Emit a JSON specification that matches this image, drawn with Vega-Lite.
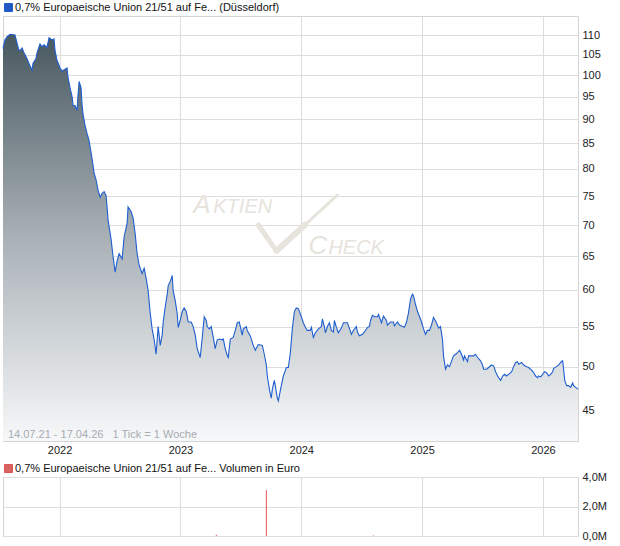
{
  "$schema": "https://vega.github.io/schema/vega-lite/v6.json",
  "padding": {"left": 0, "top": 1, "right": 5, "bottom": 4},
  "background": "white",
  "spacing": 36,
  "bounds": "flush",
  "config": {
    "font": "Liberation Sans",
    "view": {"stroke": "#d4d4d4"},
    "axis": {"gridColor": "#dddddd", "domain": false, "ticks": false, "labelFont": "Liberation Sans", "labelFontSize": 11, "labelColor": "#222222"}
  },
  "resolve": {"scale": {"color": "independent"}, "legend": {"color": "independent"}},
  "datasets": {
    "price": [
      {"t":2021.532,"v":106.5},{"t":2021.548,"v":108.7},{"t":2021.565,"v":109.5},{"t":2021.590,"v":110.2},{"t":2021.631,"v":110},{"t":2021.648,"v":108},{"t":2021.664,"v":106},{"t":2021.681,"v":106.3},{"t":2021.689,"v":106.7},{"t":2021.706,"v":105.5},{"t":2021.731,"v":104},{"t":2021.747,"v":102.8},{"t":2021.772,"v":101.2},{"t":2021.780,"v":102.8},{"t":2021.805,"v":104},{"t":2021.814,"v":105.5},{"t":2021.838,"v":107.7},{"t":2021.855,"v":107},{"t":2021.872,"v":107.5},{"t":2021.896,"v":106.8},{"t":2021.913,"v":109.3},{"t":2021.938,"v":108.7},{"t":2021.954,"v":109},{"t":2021.963,"v":106},{"t":2021.979,"v":103.6},{"t":2022.004,"v":101.7},{"t":2022.021,"v":101},{"t":2022.046,"v":101.4},{"t":2022.062,"v":101.7},{"t":2022.070,"v":99.5},{"t":2022.087,"v":97},{"t":2022.104,"v":95},{"t":2022.112,"v":93},{"t":2022.128,"v":93},{"t":2022.145,"v":92},{"t":2022.153,"v":95.5},{"t":2022.162,"v":98.5},{"t":2022.178,"v":97},{"t":2022.186,"v":93.3},{"t":2022.195,"v":91},{"t":2022.211,"v":88.7},{"t":2022.228,"v":87},{"t":2022.244,"v":85.6},{"t":2022.261,"v":83.2},{"t":2022.269,"v":82},{"t":2022.286,"v":79.2},{"t":2022.302,"v":78},{"t":2022.319,"v":76},{"t":2022.336,"v":74.8},{"t":2022.352,"v":75.5},{"t":2022.369,"v":75.8},{"t":2022.385,"v":75.1},{"t":2022.402,"v":70.8},{"t":2022.427,"v":67.6},{"t":2022.443,"v":64.9},{"t":2022.460,"v":62.6},{"t":2022.476,"v":64.3},{"t":2022.493,"v":65.4},{"t":2022.518,"v":64.6},{"t":2022.534,"v":68.1},{"t":2022.559,"v":70.3},{"t":2022.567,"v":73.1},{"t":2022.592,"v":72.3},{"t":2022.609,"v":71.2},{"t":2022.625,"v":68.7},{"t":2022.642,"v":65.4},{"t":2022.659,"v":63.6},{"t":2022.683,"v":62.4},{"t":2022.700,"v":63.2},{"t":2022.717,"v":61.6},{"t":2022.733,"v":59.9},{"t":2022.750,"v":56.8},{"t":2022.766,"v":54.7},{"t":2022.783,"v":53.3},{"t":2022.799,"v":51.5},{"t":2022.808,"v":53.3},{"t":2022.816,"v":55},{"t":2022.833,"v":52.6},{"t":2022.849,"v":53.9},{"t":2022.857,"v":55.5},{"t":2022.874,"v":57.6},{"t":2022.891,"v":59.4},{"t":2022.899,"v":60.6},{"t":2022.924,"v":61.6},{"t":2022.932,"v":62.1},{"t":2022.940,"v":59.9},{"t":2022.957,"v":58.5},{"t":2022.973,"v":56.8},{"t":2022.982,"v":54.9},{"t":2022.998,"v":55.8},{"t":2023.015,"v":57},{"t":2023.031,"v":57.5},{"t":2023.048,"v":57},{"t":2023.065,"v":55.6},{"t":2023.089,"v":55.6},{"t":2023.106,"v":55},{"t":2023.123,"v":53.9},{"t":2023.139,"v":52.2},{"t":2023.164,"v":51.1},{"t":2023.181,"v":53.6},{"t":2023.197,"v":56.3},{"t":2023.214,"v":55.8},{"t":2023.222,"v":55},{"t":2023.239,"v":54.7},{"t":2023.255,"v":55},{"t":2023.272,"v":53.6},{"t":2023.288,"v":52.2},{"t":2023.305,"v":53.3},{"t":2023.321,"v":53.4},{"t":2023.346,"v":53.3},{"t":2023.355,"v":53.4},{"t":2023.371,"v":52.2},{"t":2023.388,"v":51.3},{"t":2023.396,"v":51.1},{"t":2023.413,"v":53.4},{"t":2023.437,"v":53.6},{"t":2023.454,"v":54.5},{"t":2023.471,"v":55.5},{"t":2023.487,"v":55.6},{"t":2023.512,"v":53.9},{"t":2023.520,"v":54.7},{"t":2023.545,"v":55},{"t":2023.553,"v":54.5},{"t":2023.578,"v":53.8},{"t":2023.603,"v":52.6},{"t":2023.620,"v":52},{"t":2023.644,"v":52.7},{"t":2023.678,"v":52.6},{"t":2023.694,"v":51.5},{"t":2023.711,"v":50.2},{"t":2023.719,"v":48.9},{"t":2023.736,"v":47.4},{"t":2023.752,"v":46.4},{"t":2023.761,"v":47.4},{"t":2023.777,"v":48.4},{"t":2023.785,"v":47.8},{"t":2023.802,"v":46.4},{"t":2023.810,"v":46.1},{"t":2023.835,"v":47.8},{"t":2023.852,"v":48.9},{"t":2023.877,"v":49.9},{"t":2023.893,"v":49.9},{"t":2023.910,"v":51.7},{"t":2023.926,"v":54.7},{"t":2023.943,"v":57},{"t":2023.959,"v":57.5},{"t":2023.976,"v":57.4},{"t":2024.001,"v":56.3},{"t":2024.017,"v":55.5},{"t":2024.034,"v":54.9},{"t":2024.050,"v":54.5},{"t":2024.075,"v":54.5},{"t":2024.084,"v":54.9},{"t":2024.100,"v":53.6},{"t":2024.117,"v":54.2},{"t":2024.142,"v":54.7},{"t":2024.166,"v":55},{"t":2024.175,"v":56},{"t":2024.191,"v":55},{"t":2024.200,"v":54.2},{"t":2024.216,"v":55},{"t":2024.233,"v":55.5},{"t":2024.249,"v":54.5},{"t":2024.266,"v":54.3},{"t":2024.274,"v":55.8},{"t":2024.291,"v":54.9},{"t":2024.307,"v":54.2},{"t":2024.332,"v":54.8},{"t":2024.349,"v":55.5},{"t":2024.382,"v":55.5},{"t":2024.398,"v":54.8},{"t":2024.415,"v":54},{"t":2024.431,"v":54.5},{"t":2024.456,"v":55},{"t":2024.465,"v":54.3},{"t":2024.481,"v":53.8},{"t":2024.506,"v":54},{"t":2024.523,"v":54.3},{"t":2024.548,"v":54.9},{"t":2024.564,"v":55},{"t":2024.573,"v":55.8},{"t":2024.589,"v":56.5},{"t":2024.606,"v":56.3},{"t":2024.630,"v":56.3},{"t":2024.639,"v":56.6},{"t":2024.664,"v":55.5},{"t":2024.680,"v":56.4},{"t":2024.705,"v":55.8},{"t":2024.713,"v":55.2},{"t":2024.738,"v":55.6},{"t":2024.763,"v":55.6},{"t":2024.771,"v":55.1},{"t":2024.796,"v":55.6},{"t":2024.813,"v":55.2},{"t":2024.838,"v":55},{"t":2024.854,"v":54.9},{"t":2024.871,"v":55.6},{"t":2024.887,"v":56.8},{"t":2024.904,"v":58.7},{"t":2024.920,"v":59.4},{"t":2024.929,"v":59.2},{"t":2024.945,"v":58},{"t":2024.962,"v":57},{"t":2024.979,"v":56.3},{"t":2024.995,"v":55.6},{"t":2025.012,"v":54.7},{"t":2025.028,"v":54},{"t":2025.045,"v":54.5},{"t":2025.061,"v":54.5},{"t":2025.078,"v":55.2},{"t":2025.094,"v":56.2},{"t":2025.119,"v":55.5},{"t":2025.136,"v":54.8},{"t":2025.152,"v":55},{"t":2025.169,"v":53.3},{"t":2025.177,"v":51.3},{"t":2025.194,"v":49.7},{"t":2025.210,"v":50.2},{"t":2025.227,"v":50},{"t":2025.260,"v":51.3},{"t":2025.277,"v":51.5},{"t":2025.293,"v":51.7},{"t":2025.310,"v":52},{"t":2025.326,"v":51.5},{"t":2025.343,"v":50.8},{"t":2025.351,"v":51.3},{"t":2025.376,"v":50.6},{"t":2025.384,"v":51.3},{"t":2025.409,"v":51.3},{"t":2025.426,"v":51.3},{"t":2025.442,"v":51.5},{"t":2025.459,"v":51.1},{"t":2025.484,"v":50.7},{"t":2025.500,"v":50.2},{"t":2025.509,"v":49.7},{"t":2025.534,"v":49.7},{"t":2025.550,"v":49.9},{"t":2025.575,"v":50.2},{"t":2025.592,"v":50.1},{"t":2025.608,"v":49.4},{"t":2025.625,"v":48.9},{"t":2025.633,"v":48.7},{"t":2025.650,"v":48.4},{"t":2025.666,"v":48.9},{"t":2025.683,"v":49.1},{"t":2025.699,"v":48.9},{"t":2025.716,"v":49.1},{"t":2025.741,"v":49.4},{"t":2025.757,"v":50},{"t":2025.774,"v":50.5},{"t":2025.790,"v":50.6},{"t":2025.799,"v":50.3},{"t":2025.824,"v":50.5},{"t":2025.840,"v":50.2},{"t":2025.865,"v":50},{"t":2025.881,"v":49.9},{"t":2025.906,"v":49.6},{"t":2025.923,"v":49.3},{"t":2025.939,"v":48.9},{"t":2025.956,"v":48.7},{"t":2025.964,"v":48.9},{"t":2025.981,"v":48.8},{"t":2025.997,"v":49.1},{"t":2026.014,"v":49.4},{"t":2026.030,"v":49.3},{"t":2026.047,"v":48.9},{"t":2026.064,"v":49.1},{"t":2026.080,"v":49.4},{"t":2026.089,"v":49.8},{"t":2026.113,"v":50},{"t":2026.130,"v":50.2},{"t":2026.146,"v":50.5},{"t":2026.163,"v":50.7},{"t":2026.171,"v":49.7},{"t":2026.180,"v":48.4},{"t":2026.196,"v":47.8},{"t":2026.213,"v":47.8},{"t":2026.229,"v":47.6},{"t":2026.246,"v":48.1},{"t":2026.254,"v":47.8},{"t":2026.271,"v":47.6},{"t":2026.290,"v":47.4}
    ],
    "check": [
      {"part":"l","t":2023.645,"v":70.03},{"part":"l","t":2023.794,"v":65.84},
      {"part":"r1","t":2023.794,"v":65.84},{"part":"r1","t":2024.034,"v":70.1},
      {"part":"r2","t":2024.034,"v":70.1},{"part":"r2","t":2024.299,"v":75.2}
    ],
    "wm": [
      {"label":"A","size":"big","t":2023.106,"v":72.05},
      {"label":"KTIEN","size":"small","t":2023.272,"v":72.05},
      {"label":"C","size":"big","t":2024.059,"v":65.36},
      {"label":"HECK","size":"small","t":2024.2245,"v":65.36}
    ],
    "foot": [
      {"label":"14.07.21 - 17.04.26\u00a0\u00a0\u00a01 Tick = 1 Woche","t":2021.573,"v":42.21}
    ],
    "vol": [
      {"t":2023.297,"vol":80000},{"t":2023.711,"vol":3100000},{"t":2024.597,"vol":40000}
    ]
  },
  "vconcat": [
    {
      "width": 575,
      "height": 425,
      "encoding": {
        "x": {"field": "t", "type": "quantitative", "scale": {"domain": [2021.532, 2026.29], "nice": false, "zero": false}, "axis": {"values": [2022, 2023, 2024, 2025, 2026], "format": "d", "title": null, "grid": true, "labelPadding": 3}},
        "y": {"field": "v", "type": "quantitative", "scale": {"type": "log", "domain": [41.9, 115.1], "nice": false}, "axis": {"orient": "right", "values": [45, 50, 55, 60, 65, 70, 75, 80, 85, 90, 95, 100, 105, 110], "format": "d", "title": null, "grid": true, "labelPadding": 4}}
      },
      "layer": [
        {
          "data": {"name": "price"},
          "mark": {"type": "area", "fill": {"gradient": "linear", "x1": 0, "y1": 0, "x2": 0, "y2": 1, "stops": [{"offset": 0, "color": "#48585f"}, {"offset": 0.5, "color": "#a9b1b7"}, {"offset": 1, "color": "#f7f8f9"}]}},
          "encoding": {"y2": {"datum": 41.9}}
        },
        {
          "data": {"name": "wm"},
          "transform": [{"filter": "datum.size == 'big'"}],
          "mark": {"type": "text", "align": "left", "baseline": "alphabetic", "fontSize": 26, "fontStyle": "italic", "font": "Liberation Sans", "color": "#e7e3dd"},
          "encoding": {"text": {"field": "label"}}
        },
        {
          "data": {"name": "wm"},
          "transform": [{"filter": "datum.size == 'small'"}],
          "mark": {"type": "text", "align": "left", "baseline": "alphabetic", "fontSize": 20, "fontStyle": "italic", "font": "Liberation Sans", "color": "#e7e3dd"},
          "encoding": {"text": {"field": "label"}}
        },
        {
          "data": {"name": "check"},
          "transform": [{"filter": "datum.part == 'l'"}],
          "mark": {"type": "line", "strokeWidth": 5, "strokeCap": "round", "color": "#e7e3dd"},
          "encoding": {}
        },
        {
          "data": {"name": "check"},
          "transform": [{"filter": "datum.part == 'r1'"}],
          "mark": {"type": "line", "strokeWidth": 6, "strokeCap": "round", "color": "#e7e3dd"},
          "encoding": {}
        },
        {
          "data": {"name": "check"},
          "transform": [{"filter": "datum.part == 'r2'"}],
          "mark": {"type": "line", "strokeWidth": 3, "strokeCap": "round", "color": "#e7e3dd"},
          "encoding": {}
        },
        {
          "data": {"name": "price"},
          "mark": {"type": "line", "strokeWidth": 1.1},
          "encoding": {
            "color": {"datum": "0,7% Europaeische Union 21/51 auf Fe... (Düsseldorf)", "type": "nominal", "scale": {"range": ["#1f5ed0"]},
              "legend": {"title": null, "orient": "none", "legendX": 0, "legendY": -14, "symbolType": "square", "symbolSize": 64, "symbolFillColor": "#2159c4", "symbolStrokeWidth": 1, "labelFont": "Liberation Sans", "labelFontSize": 11, "labelColor": "#111111", "labelOffset": 1, "labelLimit": 0, "padding": 0,
                "encode": {"symbols": {"update": {"fill": {"value": "#2159c4"}, "stroke": {"value": "#1a3f86"}, "strokeWidth": {"value": 1}}}}}}
          }
        },
        {
          "data": {"name": "foot"},
          "mark": {"type": "text", "align": "left", "baseline": "alphabetic", "fontSize": 11, "font": "Liberation Sans", "color": "#a6acb2"},
          "encoding": {"text": {"field": "label"}}
        }
      ]
    },
    {
      "width": 575,
      "height": 59,
      "data": {"name": "vol"},
      "mark": {"type": "rule", "strokeWidth": 1},
      "encoding": {
        "x": {"field": "t", "type": "quantitative", "scale": {"domain": [2021.532, 2026.29], "nice": false, "zero": false}, "axis": {"values": [2022, 2023, 2024, 2025, 2026], "labels": false, "title": null, "grid": true}},
        "y": {"field": "vol", "type": "quantitative", "scale": {"domain": [0, 4000000], "nice": false}, "axis": {"orient": "right", "values": [0, 2000000, 4000000], "labelExpr": "replace(format(datum.value/1000000,'.1f'),'.',',')+'M'", "title": null, "grid": true, "labelPadding": 4}},
        "y2": {"datum": 0},
        "color": {"datum": "0,7% Europaeische Union 21/51 auf Fe... Volumen in Euro", "type": "nominal", "scale": {"range": ["#e05656"]},
          "legend": {"title": null, "orient": "none", "legendX": 0, "legendY": -14, "symbolType": "square", "symbolSize": 64, "symbolFillColor": "#d86464", "symbolStrokeWidth": 1, "labelFont": "Liberation Sans", "labelFontSize": 11, "labelColor": "#111111", "labelOffset": 1, "labelLimit": 0, "padding": 0,
            "encode": {"symbols": {"update": {"fill": {"value": "#d86464"}, "stroke": {"value": "#555555"}, "strokeWidth": {"value": 1}}}}}}
      }
    }
  ]
}
